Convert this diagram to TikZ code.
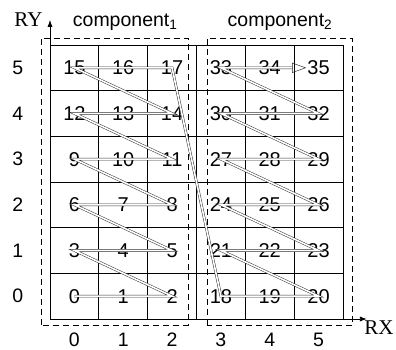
\documentclass[tikz,border=0pt]{standalone}
\usepackage{fontspec}
\setmainfont{Liberation Sans}
\newfontfamily\axisfont{Liberation Serif}
\usetikzlibrary{arrows.meta, positioning}

\begin{document}
\begin{tikzpicture}[x=1pt, y=1pt,
    cell/.style = {inner sep=1pt, font=\fontsize{20}{21}\selectfont},
    tick/.style = {font=\fontsize{19.5}{20}\selectfont},
    comp/.style = {draw, dashed, thick, dash pattern=on 6pt off 4pt},
    trail/.style = {draw=black!80, line width=0.5pt, double=white, double distance=1.6pt},
    axis/.style = {thick, -{Latex[length=7pt, width=5pt]}}]
  \useasboundingbox (0,0) rectangle (396,350);
  \begin{scope}[shift={(50,31)}, x=48.83pt, y=45.67pt]
    % cells
    \foreach \k in {1,...,6} {
      \draw[line width=0.8pt] (\k,0) -- (\k,6);
      \draw[line width=0.8pt] (0,\k) -- (6,\k);
    }
    \foreach \r in {0,...,5} {
      \foreach \c in {0,1,2} {
        \pgfmathtruncatemacro{\n}{3*\r+\c}
        \node[cell] (n\n) at (\c+0.5, \r+0.5) {\n};
      }
      \foreach \c in {3,4,5} {
        \pgfmathtruncatemacro{\n}{18+3*\r+\c-3}
        \node[cell] (n\n) at (\c+0.5, \r+0.5) {\n};
      }
    }
    % components
    \draw[comp] (-0.18,-0.13) rectangle (2.83,6.15);
    \draw[comp] (3.22,-0.13) rectangle (6.2,6.15);
    \node[tick] (c1) at (1.54,6.5) {component\textsubscript{1}};
    \node[tick] (c2) at (4.71,6.5) {component\textsubscript{2}};
    % axes
    \coordinate (o) at (0,0);
    \coordinate (ytop) at (0,6.55);
    \coordinate (xend) at (6.49,0);
    \draw[axis] (o) -- (ytop);
    \draw[axis] (o) -- (xend);
    \node[font=\axisfont\fontsize{21}{22}\selectfont, left=4pt] (ry) at (ytop) {RY};
    \node[font=\axisfont\fontsize{21}{22}\selectfont, below right=-2pt and -6pt of xend] (rx) {RX};
    \foreach \i in {0,...,5} {
      \node[tick] (ly\i) at (-0.66,\i+0.5) {\i};
      \node[tick] (lx\i) at (\i+0.5,-0.46) {\i};
    }
    % scan order
    \draw[trail, -{Triangle[open, length=14pt, width=10pt]}] (n0.center)
      \foreach \i in {1,...,34} { -- (n\i.center) } -- (n35);
  \end{scope}
\end{tikzpicture}
\end{document}
